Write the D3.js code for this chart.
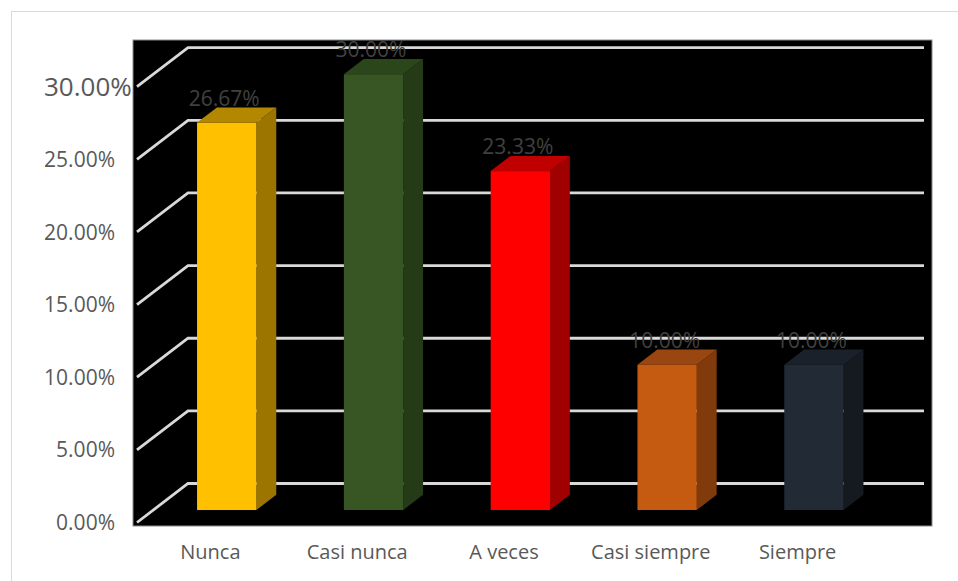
<!DOCTYPE html>
<html>
<head>
<meta charset="utf-8">
<script src="https://cdn.jsdelivr.net/npm/d3@7"></script>
<style>
  html, body { margin: 0; padding: 0; background: #ffffff; }
  svg { display: block; }
  text { font-family: "Open Sans", "Liberation Sans", sans-serif; }
</style>
</head>
<body>
<svg id="chart" width="958" height="581"></svg>
<script>
// Survey response shares
const categories = ["Nunca", "Casi nunca", "A veces", "Casi siempre", "Siempre"];
const values = [0.2667, 0.30, 0.2333, 0.10, 0.10];
const valueLabels = ["26.67%", "30.00%", "23.33%", "10.00%", "10.00%"];
const tickValues = [0, 0.05, 0.10, 0.15, 0.20, 0.25, 0.30];
const tickLabels = ["0.00%", "5.00%", "10.00%", "15.00%", "20.00%", "25.00%", "30.00%"];
const frontColors = ["#FFC000", "#375623", "#FF0000", "#C55A11", "#222A35"];
const topColors   = ["#B38700", "#2C461C", "#C00000", "#9A4610", "#1B212A"];
const sideColors  = ["#9C7500", "#253B18", "#A00000", "#813A0B", "#151A21"];

const svg = d3.select("#chart");

// Chart frame
svg.append("rect")
  .attr("x", 11.5).attr("y", 11.5)
  .attr("width", 960).attr("height", 580)
  .attr("fill", "#ffffff").attr("stroke", "#d9d9d9").attr("stroke-width", 1);

// Plot area
svg.append("rect")
  .attr("x", 133).attr("y", 40)
  .attr("width", 799).attr("height", 486)
  .attr("fill", "#000000").attr("stroke", "#8c8c8c").attr("stroke-width", 1);

// Oblique 3D projection: depth d in [0,1] shifts points up and to the right
const DEPTH_X = 51, DEPTH_Y = 39;
const px = (x, d) => x + d * DEPTH_X;
const py = (y, d) => y - d * DEPTH_Y;

const x = d3.scaleBand()
  .domain(categories)
  .range([137, 871])
  .paddingInner(0.596)
  .paddingOuter(0.298);

const y = d3.scaleLinear()
  .domain([0, 0.30])
  .range([522.5, 86.7]);

const xLeft = 137;
const backRight = 924;

// Gridlines: along the left wall, then across the back wall
const grid = svg.append("g");
tickValues.forEach(t => {
  const yf = y(t);
  grid.append("polyline")
    .attr("points", [
      [xLeft, yf],
      [px(xLeft, 1), py(yf, 1)],
      [backRight, py(yf, 1)]
    ].map(p => p.join(",")).join(" "))
    .attr("fill", "none")
    .attr("stroke", "#d9d9d9")
    .attr("stroke-width", 2.8);
});

// Y-axis tick labels
const yAxis = svg.append("g");
tickValues.forEach((t, i) => {
  const top = i === tickValues.length - 1;
  yAxis.append("text")
    .attr("x", top ? 44 : 115)
    .attr("y", y(t))
    .attr("dy", "0.36em")
    .attr("text-anchor", top ? "start" : "end")
    .attr("font-size", top ? 26 : 21)
    .attr("fill", "#595959")
    .text(tickLabels[i]);
});

// Bars as 3D boxes
const D0 = 0.32, D1 = 0.71;
const bw = x.bandwidth();
const bars = svg.append("g");
categories.forEach((c, i) => {
  const x0 = px(x(c), D0), x1 = x0 + bw;
  const yTop = py(y(values[i]), D0), yBot = py(y(0), D0);
  const ddx = (D1 - D0) * DEPTH_X, ddy = (D1 - D0) * DEPTH_Y;
  const pts = a => a.map(p => p.join(",")).join(" ");
  // side face
  bars.append("polygon")
    .attr("points", pts([[x1, yTop], [x1 + ddx, yTop - ddy], [x1 + ddx, yBot - ddy], [x1, yBot]]))
    .attr("fill", sideColors[i]);
  // top face
  bars.append("polygon")
    .attr("points", pts([[x0, yTop], [x1, yTop], [x1 + ddx, yTop - ddy], [x0 + ddx, yTop - ddy]]))
    .attr("fill", topColors[i]);
  // front face
  bars.append("rect")
    .attr("x", x0).attr("y", yTop)
    .attr("width", bw).attr("height", yBot - yTop)
    .attr("fill", frontColors[i]);
  // value label
  bars.append("text")
    .attr("x", x0 + bw / 2 - 2.5)
    .attr("y", yTop - 17)
    .attr("text-anchor", "middle")
    .attr("font-size", 21)
    .attr("fill", "#404040")
    .text(valueLabels[i]);
});

// Category labels
const xAxis = svg.append("g");
categories.forEach(c => {
  xAxis.append("text")
    .attr("x", x(c) + bw / 2)
    .attr("y", 559)
    .attr("text-anchor", "middle")
    .attr("font-size", 20)
    .attr("fill", "#595959")
    .text(c);
});
</script>
</body>
</html>
